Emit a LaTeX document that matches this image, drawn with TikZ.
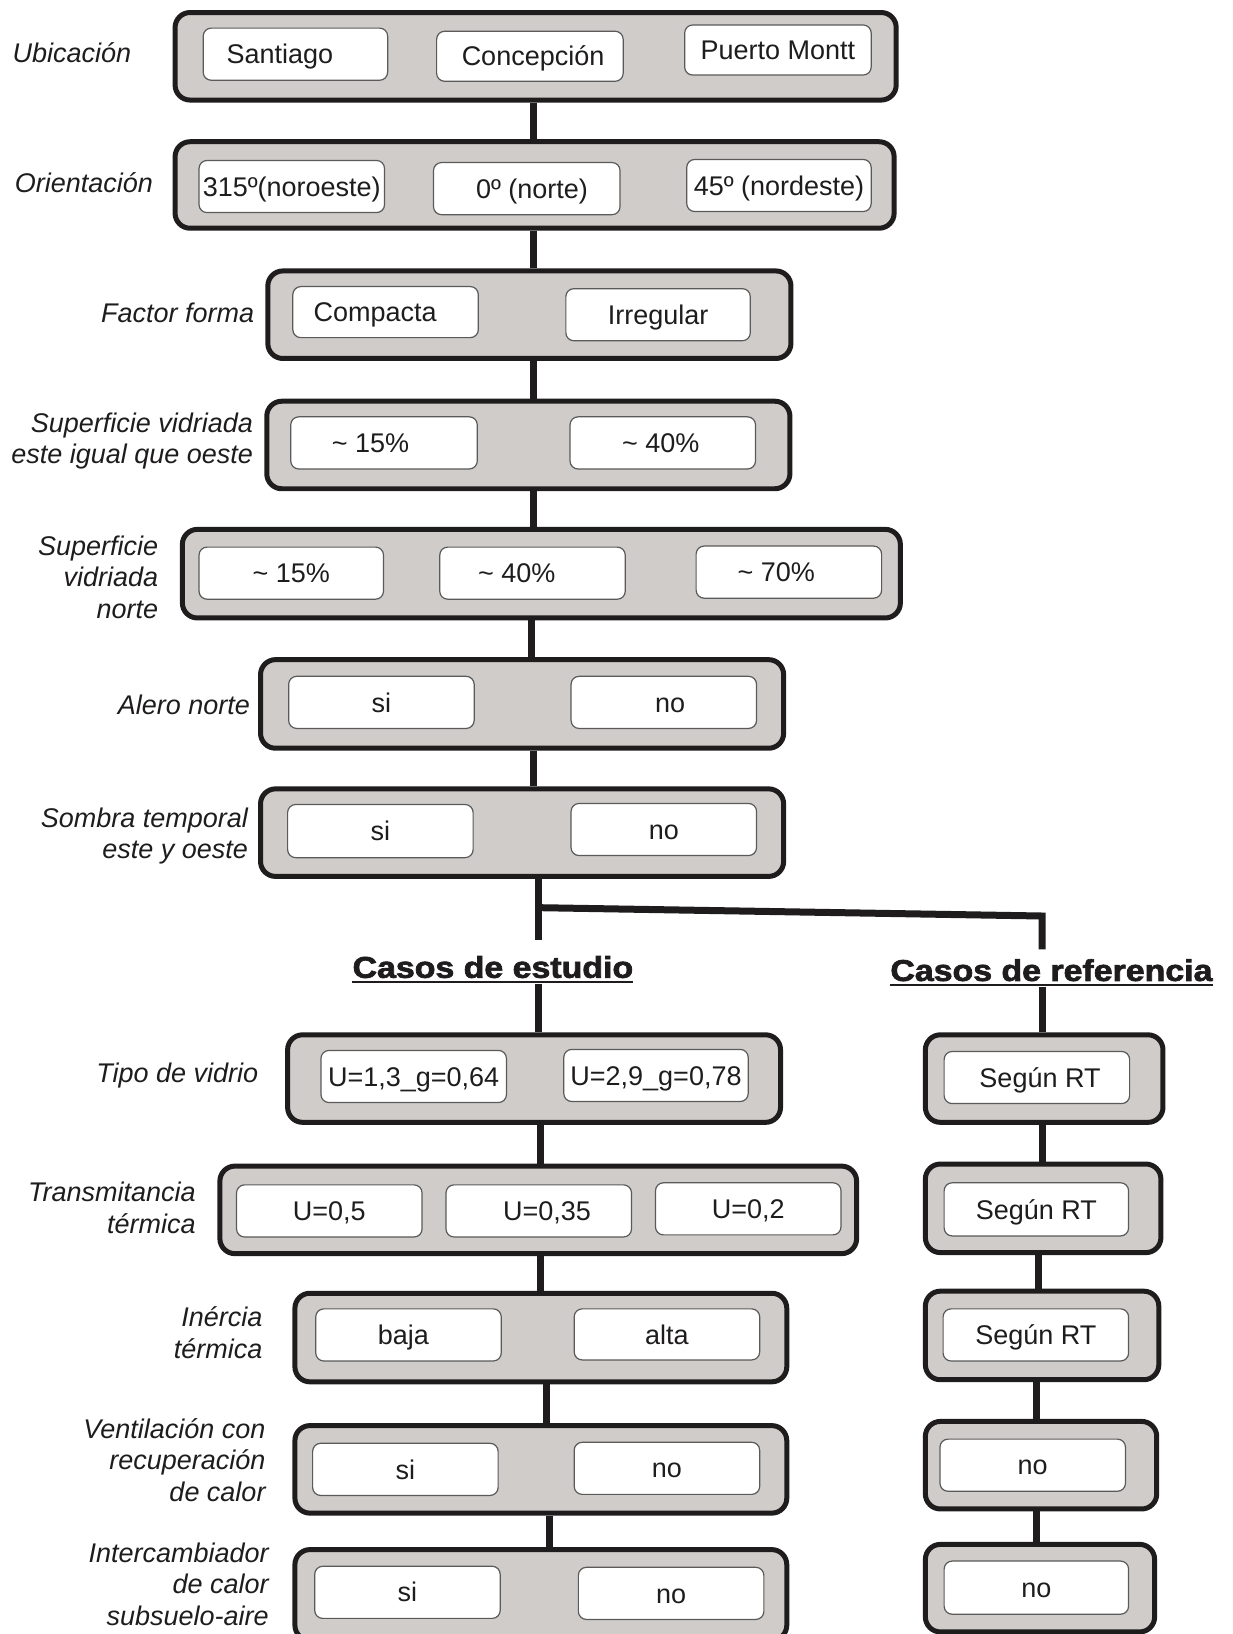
\documentclass[tikz,border=0pt]{standalone}
\usepackage{fontspec}
\setmainfont{Liberation Sans}
\newfontfamily\headfont{Liberation Sans Bold}[FakeBold=2.2]
\usetikzlibrary{fit,backgrounds}
\definecolor{panelgray}{RGB}{208,204,201}
\definecolor{ink}{RGB}{30,28,29}
\definecolor{rim}{RGB}{90,90,90}

\tikzset{
  panel/.style={draw=ink, line width=5pt, fill=panelgray, rounded corners=15pt, inner sep=0pt},
  choice/.style={draw=rim, line width=1.2pt, fill=white, rounded corners=8pt, inner sep=0pt},
  choicetext/.style={font=\fontsize{27}{31}\selectfont, text=ink, inner sep=0pt, text height=19.3pt, text depth=0pt},
  factor/.style={font=\fontsize{27}{31.5}\selectfont\itshape, text=ink, align=right, anchor=east, inner sep=0pt},
  factorleft/.style={factor, anchor=west, align=left},
  link/.style={draw=ink, line width=7pt},
  heading/.style={font=\headfont\fontsize{30}{34}\selectfont, text=ink, inner sep=0pt},
  underbar/.style={draw=ink, line width=1.6pt},
}
% one option box: [text offset], name, two corners, text
\newcommand\choicebox[5][0]{\node[choice, fit={#3 #4},
  label={[choicetext, name=#2t, xshift={#1*1.0423pt}]center:#5}] (#2) {};}
% one grey group panel: name, two corners
\newcommand\panelbox[3]{\node[panel, fit={#2 #3}] (#1) {};}

\begin{document}
\begin{tikzpicture}[x=1.0423pt, y=-1.0423pt]
\useasboundingbox (0,0) rectangle (1183,1568);

% ---------- common parameters ----------
\panelbox{r1}{(168,12)}{(860,96)}
\choicebox[-15]{c11}{(195,27)}{(372,77)}{Santiago}
\choicebox[3]{c12}{(419,30)}{(598,78)}{Concepción}
\choicebox{c13}{(657,24)}{(836,72)}{Puerto Montt}
\node[factorleft] (f1) at (12,51) {Ubicación};

\panelbox{r2}{(168,136)}{(858,219)}
\choicebox{c21}{(191,154)}{(369,204)}{315º(noroeste)}
\choicebox[5]{c22}{(416,156)}{(595,206)}{0º (norte)}
\choicebox{c23}{(659,153)}{(836,203)}{45º (nordeste)}
\node[factorleft] (f2) at (14,175) {Orientación};

\panelbox{r3}{(257,260)}{(759,344)}
\choicebox[-10]{c31}{(281,275)}{(459,324)}{Compacta}
\choicebox{c32}{(543,277)}{(720,327)}{Irregular}
\node[factor] (f3) at (244,300) {Factor forma};

\panelbox{r4}{(256,385)}{(758,469)}
\choicebox[-13]{c41}{(279,400)}{(458,450)}{\textasciitilde\ 15\%}
\choicebox[-2]{c42}{(547,400)}{(725,450)}{\textasciitilde\ 40\%}
\node[factor] (f4) at (243,423) {Superficie vidriada\\este igual que oeste};

\panelbox{r5}{(175,508)}{(864,593)}
\choicebox{c51}{(191,525)}{(368,575)}{\textasciitilde\ 15\%}
\choicebox[-15]{c52}{(422,525)}{(600,575)}{\textasciitilde\ 40\%}
\choicebox[-12]{c53}{(668,524)}{(846,574)}{\textasciitilde\ 70\%}
\node[factor] (f5) at (152,554) {Superficie\\vidriada\\norte};

\panelbox{r6}{(250,633)}{(752,718)}
\choicebox{c61}{(277,649)}{(455,699)}{si}
\choicebox[6]{c62}{(548,649)}{(726,699)}{no}
\node[factor] (f6) at (240,676) {Alero norte};

\panelbox{r7}{(250,757)}{(752,841)}
\choicebox{c71}{(276,772)}{(454,823)}{si}
\choicebox{c72}{(548,771)}{(726,821)}{no}
\node[factor] (f7) at (238,802) {Sombra temporal\\este y oeste};

% ---------- branch headings ----------
\node[heading] (hs) at (473,928) {\scalebox{1.13}[1]{Casos de estudio}};
\node[heading] (hr) at (1009,931) {\scalebox{1.13}[1]{Casos de referencia}};
\draw[underbar] ([yshift=-4pt]hs.base west) -- ([yshift=-4pt]hs.base east);
\draw[underbar] ([yshift=-4pt]hr.base west) -- ([yshift=-4pt]hr.base east);

% ---------- study cases ----------
\panelbox{r8}{(276,993)}{(749,1077)}
\choicebox{c81}{(308,1008)}{(486,1058)}{U=1,3\_g=0,64}
\choicebox{c82}{(541,1007)}{(718,1057)}{U=2,9\_g=0,78}
\node[factor] (f8) at (248,1032) {Tipo de vidrio};

\panelbox{r9}{(211,1119)}{(822,1203)}
\choicebox{c91}{(227,1137)}{(405,1187)}{U=0,5}
\choicebox[8]{c92}{(428,1137)}{(606,1187)}{U=0,35}
\choicebox{c93}{(629,1135)}{(807,1185)}{U=0,2}
\node[factor] (f9) at (188,1159) {Transmitancia\\térmica};

\panelbox{r10}{(283,1241)}{(755,1326)}
\choicebox[-5]{c101}{(303,1256)}{(481,1306)}{baja}
\choicebox{c102}{(551,1256)}{(729,1305)}{alta}
\node[factor] (f10) at (252,1279) {Inércia\\térmica};

\panelbox{r11}{(283,1368)}{(755,1452)}
\choicebox{c111}{(300,1385)}{(478,1435)}{si}
\choicebox{c112}{(551,1384)}{(729,1434)}{no}
\node[factor] (f11) at (255,1401) {Ventilación con\\recuperación\\de calor};

\panelbox{r12}{(283,1487)}{(755,1574)}
\choicebox{c121}{(302,1503)}{(480,1553)}{si}
\choicebox{c122}{(555,1504)}{(733,1554)}{no}
\node[factor] (f12) at (258,1520) {Intercambiador\\de calor\\subsuelo-aire};

% ---------- reference cases ----------
\panelbox{q1}{(888,993)}{(1116,1077)}
\choicebox[3]{d1}{(906,1009)}{(1084,1059)}{Según RT}
\panelbox{q2}{(888,1117)}{(1114,1202)}
\choicebox{d2}{(906,1135)}{(1083,1186)}{Según RT}
\panelbox{q3}{(888,1239)}{(1112,1324)}
\choicebox{d3}{(905,1256)}{(1083,1306)}{Según RT}
\panelbox{q4}{(888,1364)}{(1110,1448)}
\choicebox{d4}{(902,1381)}{(1080,1431)}{no}
\panelbox{q5}{(888,1482)}{(1108,1566)}
\choicebox{d5}{(906,1498)}{(1083,1549)}{no}

% ---------- connectors ----------
\coordinate (xa) at (512,0);
\coordinate (xb) at (510,0);
\coordinate (xc) at (517,0);
\coordinate (xd) at (519,0);
\coordinate (xe) at (524,0);
\coordinate (xf) at (527,0);
\coordinate (ya) at (1000,0);
\coordinate (yb) at (997,0);
\coordinate (yc) at (995,0);
\coordinate (split) at (517,871);
\coordinate (turn) at (1000,879);
\coordinate (stubs) at (517,902);
\coordinate (stubr) at (1000,911);

\begin{scope}[on background layer]
  \draw[link] (r1.south -| xa) -- (r2.north -| xa);
  \draw[link] (r2.south -| xa) -- (r3.north -| xa);
  \draw[link] (r3.south -| xa) -- (r4.north -| xa);
  \draw[link] (r4.south -| xa) -- (r5.north -| xa);
  \draw[link] (r5.south -| xb) -- (r6.north -| xb);
  \draw[link] (r6.south -| xa) -- (r7.north -| xa);
  \draw[link] (r7.south -| xc) -- (stubs);
  \draw[link] (split) -- (turn) -- (stubr);
  \draw[link] ([yshift=-6pt]hs.base -| xc) -- (r8.north -| xc);
  \draw[link] ([yshift=-6pt]hr.base -| ya) -- (q1.north -| ya);
  \draw[link] (r8.south -| xd) -- (r9.north -| xd);
  \draw[link] (r9.south -| xd) -- (r10.north -| xd);
  \draw[link] (r10.south -| xe) -- (r11.north -| xe);
  \draw[link] (r11.south -| xf) -- (r12.north -| xf);
  \draw[link] (q1.south -| ya) -- (q2.north -| ya);
  \draw[link] (q2.south -| yb) -- (q3.north -| yb);
  \draw[link] (q3.south -| yc) -- (q4.north -| yc);
  \draw[link] (q4.south -| yc) -- (q5.north -| yc);
\end{scope}
\end{tikzpicture}
\end{document}
